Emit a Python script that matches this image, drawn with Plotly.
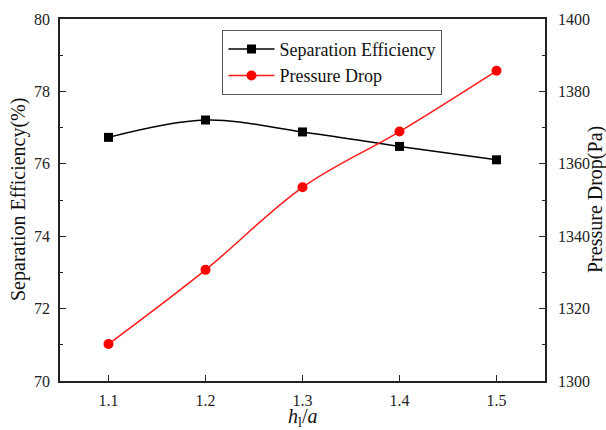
import plotly.graph_objects as go

ratio = [1.1, 1.2, 1.3, 1.4, 1.5]
separation_efficiency = [76.73, 77.21, 76.88, 76.48, 76.11]
pressure_drop = [1310.2, 1330.7, 1353.5, 1368.9, 1385.7]

FONT = "Liberation Serif"

fig = go.Figure()
fig.add_trace(go.Scatter(
    x=ratio, y=separation_efficiency, name="Separation Efficiency",
    mode="lines+markers", line=dict(color="black", width=1.5, shape="spline", smoothing=1.0),
    marker=dict(symbol="square", size=9, color="black"), yaxis="y"))
fig.add_trace(go.Scatter(
    x=ratio, y=pressure_drop, name="Pressure Drop",
    mode="lines+markers", line=dict(color="#ff1a1a", width=1.5, shape="spline", smoothing=1.0),
    marker=dict(symbol="circle", size=10, color="#ff0000"), yaxis="y2"))

axis_common = dict(showline=True, linecolor="#222", linewidth=1.5, showgrid=False,
                   zeroline=False, automargin=False,
                   tickfont=dict(family=FONT, size=16, color="#222"))

fig.update_layout(
    width=606, height=430,
    margin=dict(l=60, r=61, t=19, b=49),
    paper_bgcolor="white", plot_bgcolor="white",
    font=dict(family=FONT, color="#111"),
    xaxis=dict(range=[1.05, 1.55], tickvals=[1.1, 1.2, 1.3, 1.4, 1.5],
               ticktext=["1.1", "1.2", "1.3", "1.4", "1.5"],
               ticks="inside", ticklen=6, tickwidth=1.2, tickcolor="#222", mirror=True,
               ticklabelstandoff=4,
               **axis_common),
    yaxis=dict(range=[70, 80], tickvals=[70, 72, 74, 76, 78, 80],
               ticks="inside", ticklen=6, tickwidth=1.2, tickcolor="#222",
               ticklabelstandoff=5,
               minor=dict(tickvals=[71, 73, 75, 77, 79], ticks="inside", ticklen=3, tickcolor="#222"),
               **axis_common),
    yaxis2=dict(range=[1300, 1400], tickvals=[1300, 1320, 1340, 1360, 1380, 1400],
                overlaying="y", side="right",
                ticks="inside", ticklen=6, tickwidth=1.2, tickcolor="#222",
                ticklabelstandoff=8,
                minor=dict(tickvals=[1310, 1330, 1350, 1370, 1390], ticks="inside", ticklen=3, tickcolor="#222"),
                **axis_common),
    legend=dict(x=0.335, y=0.97, xanchor="left", yanchor="top",
                bgcolor="white", bordercolor="#555", borderwidth=1,
                font=dict(family=FONT, size=18, color="#111"),
                tracegroupgap=0, itemwidth=46),
    showlegend=True,
    annotations=[
        dict(text="Separation Efficiency(%)", xref="paper", yref="paper", x=0, y=0.5,
             xshift=-42, textangle=-90, showarrow=False, xanchor="center", yanchor="middle",
             font=dict(family=FONT, size=20, color="#111")),
        dict(text="Pressure Drop(Pa)", xref="paper", yref="paper", x=1, y=0.5,
             xshift=50, textangle=-90, showarrow=False, xanchor="center", yanchor="middle",
             font=dict(family=FONT, size=20, color="#111")),
        dict(text="<i>h</i><sub>l</sub>/<i>a</i>", xref="paper", yref="paper", x=0.5, y=0,
             yshift=-36, showarrow=False, xanchor="center", yanchor="middle",
             font=dict(family=FONT, size=20, color="#111")),
    ],
)

fig.write_html("out.html", config={"displayModeBar": False},
               post_script="document.body.style.margin='0';")
